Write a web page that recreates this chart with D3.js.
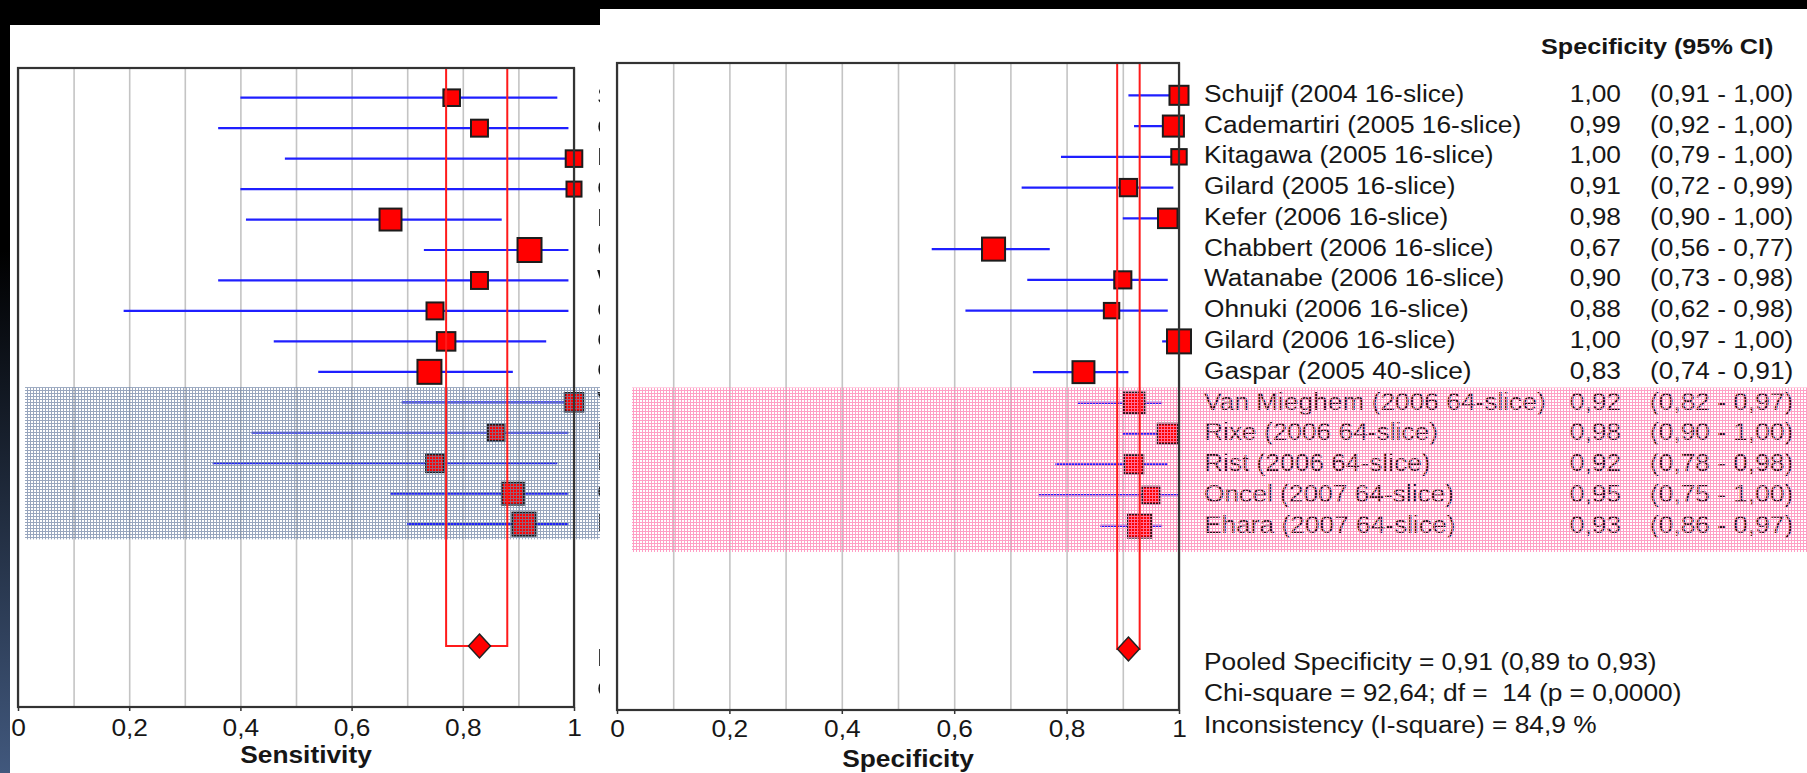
<!DOCTYPE html>
<html>
<head>
<meta charset="utf-8">
<script src="https://cdn.jsdelivr.net/npm/d3@7"></script>
<style>
  html, body { margin: 0; padding: 0; background: #000; }
  svg { display: block; }
  text { font-family: "Liberation Sans", Arial, Helvetica, sans-serif; fill: #161616; white-space: pre; }
</style>
</head>
<body>
<svg id="chart" width="1807" height="773"></svg>
<script>
// studies (same order in both panels)
const studies = [
  "Schuijf (2004 16-slice)", "Cademartiri (2005 16-slice)", "Kitagawa (2005 16-slice)",
  "Gilard (2005 16-slice)", "Kefer (2006 16-slice)", "Chabbert (2006 16-slice)",
  "Watanabe (2006 16-slice)", "Ohnuki (2006 16-slice)", "Gilard (2006 16-slice)",
  "Gaspar (2005 40-slice)", "Van Mieghem (2006 64-slice)", "Rixe (2006 64-slice)",
  "Rist (2006 64-slice)", "Oncel (2007 64-slice)", "Ehara (2007 64-slice)"
];

// sensitivity (left panel)
const sensitivity = [0.78, 0.83, 1.00, 1.00, 0.67, 0.92, 0.83, 0.75, 0.77, 0.74, 1.00, 0.86, 0.75, 0.89, 0.91];
const sensLow     = [0.40, 0.36, 0.48, 0.40, 0.41, 0.73, 0.36, 0.19, 0.46, 0.54, 0.69, 0.42, 0.35, 0.67, 0.70];
const sensHigh    = [0.97, 0.99, 1.00, 1.00, 0.87, 0.99, 0.99, 0.99, 0.95, 0.89, 1.00, 0.99, 0.97, 0.99, 0.99];
const sensWeight  = [4.4, 4.6, 4.4, 3.6, 7.7, 9.2, 4.6, 4.6, 5.5, 9.2, 5.5, 4.4, 5.1, 7.7, 8.5];
const sensPooled  = [0.83, 0.77, 0.88];

// specificity (right panel)
const specificity = [1.00, 0.99, 1.00, 0.91, 0.98, 0.67, 0.90, 0.88, 1.00, 0.83, 0.92, 0.98, 0.92, 0.95, 0.93];
const specLow     = [0.91, 0.92, 0.79, 0.72, 0.90, 0.56, 0.73, 0.62, 0.97, 0.74, 0.82, 0.90, 0.78, 0.75, 0.86];
const specHigh    = [1.00, 1.00, 1.00, 0.99, 1.00, 0.77, 0.98, 0.98, 1.00, 0.91, 0.97, 1.00, 0.98, 1.00, 0.97];
const specWeight  = [5.8, 7.1, 3.8, 4.8, 6.1, 8.5, 4.7, 3.8, 9.2, 7.7, 6.9, 6.4, 5.5, 4.6, 8.8];
const specPooled  = [0.91, 0.89, 0.93];

const specStats = [
  "Pooled Specificity = 0,91 (0,89 to 0,93)",
  "Chi-square = 92,64; df =  14 (p = 0,0000)",
  "Inconsistency (I-square) = 84,9 %"
];
// only the first letters of these peek out from under the right panel
const sensStats = ["Pooled Sensitivity", "Chi-square"];

const gridValues = [0, 0.1, 0.2, 0.3, 0.4, 0.5, 0.6, 0.7, 0.8, 0.9, 1];
const tickValues = [0, 0.2, 0.4, 0.6, 0.8, 1];

const SX = 1.12;     // the source image is a bit stretched sideways
const FS = 23.5;
const fmtTick = d => (d === 0 || d === 1) ? String(d) : d.toFixed(1).replace(".", ",");
const fmt2 = d => d.toFixed(2).replace(".", ",");

const svg = d3.select("#chart");
const defs = svg.append("defs");

// left slide edge gradient
const grad = defs.append("linearGradient").attr("id", "edge")
  .attr("gradientUnits", "userSpaceOnUse").attr("x1", 0).attr("y1", 250).attr("x2", 0).attr("y2", 773);
grad.append("stop").attr("offset", 0).attr("stop-color", "#000");
grad.append("stop").attr("offset", 1).attr("stop-color", "#41587d");

// stipple patterns for the 64-slice bands
function stipple(id, color) {
  const p = defs.append("pattern").attr("id", id).attr("patternUnits", "userSpaceOnUse")
    .attr("width", 3).attr("height", 3);
  p.append("path").attr("d", "M0,0h3v1h-2v2h-1z").attr("fill", color).attr("shape-rendering", "crispEdges");
}
stipple("bandBlue", "rgba(112,132,165,0.72)");
stipple("bandPink", "rgba(255,135,182,0.8)");

function txt(g, x, y, s, anchor, size, bold) {
  return g.append("text")
    .attr("transform", "translate(" + x + "," + y + ") scale(" + SX + ",1)")
    .attr("dy", "0.28em")
    .attr("text-anchor", anchor || "start")
    .style("font-size", (size || FS) + "px")
    .style("font-weight", bold ? "bold" : "normal")
    .text(s);
}

// background: black slide with the left edge strip
svg.append("rect").attr("width", 1807).attr("height", 773).attr("fill", "#000");
svg.append("rect").attr("x", 0).attr("y", 0).attr("width", 10).attr("height", 773).attr("fill", "url(#edge)");

const sizeScale = d3.scaleSqrt().domain([0, 10]).range([0, 25]);

function drawPanel(cfg) {
  const g = svg.append("g");
  const x = cfg.x, y = cfg.y;
  const x0 = x.range()[0], x1 = x.range()[1];

  g.append("rect").attr("x", cfg.bg[0]).attr("y", cfg.bg[1]).attr("width", cfg.bg[2]).attr("height", cfg.bg[3])
    .attr("fill", "#fff");

  // gridlines
  const grid = g.append("g").attr("transform", "translate(0," + cfg.bottom + ")")
    .call(d3.axisBottom(x).tickValues(gridValues).tickSize(-(cfg.bottom - cfg.top)).tickFormat(""));
  grid.select(".domain").remove();
  grid.selectAll("line").attr("stroke", "#c4c4c4").attr("stroke-width", 1.6);

  // CI lines
  g.selectAll(".ci").data(cfg.est).enter().append("line")
    .attr("x1", (d, i) => x(cfg.lo[i])).attr("x2", (d, i) => x(cfg.hi[i]))
    .attr("y1", (d, i) => y(i)).attr("y2", (d, i) => y(i))
    .attr("stroke", "#1f1fff").attr("stroke-width", 2.2);

  // study boxes
  g.selectAll(".box").data(cfg.est).enter().append("rect")
    .attr("x", (d, i) => x(d) - sizeScale(cfg.w[i]) / 2)
    .attr("y", (d, i) => y(i) - sizeScale(cfg.w[i]) / 2)
    .attr("width", (d, i) => sizeScale(cfg.w[i]))
    .attr("height", (d, i) => sizeScale(cfg.w[i]))
    .attr("fill", "#ff0000").attr("stroke", "#1c1c1c").attr("stroke-width", 2);

  // labels on the right of the plot
  if (cfg.labels) cfg.labels(g);

  // stippled band over the 64-slice rows
  g.append("rect").attr("x", cfg.band[0]).attr("y", cfg.band[1]).attr("width", cfg.band[2]).attr("height", cfg.band[3])
    .attr("fill", "url(#" + cfg.bandFill + ")");

  // pooled estimate: red box from the top down to the diamond
  const py = y(18);
  g.append("path")
    .attr("d", "M" + x(cfg.pooled[1]) + "," + cfg.top + "V" + py + "H" + x(cfg.pooled[2]) + "V" + cfg.top)
    .attr("fill", "none").attr("stroke", "#ff1a1a").attr("stroke-width", 2);
  const px = x(cfg.pooled[0]);
  g.append("path")
    .attr("d", "M" + px + "," + (py - 12) + "L" + (px + 11) + "," + py + "L" + px + "," + (py + 12) + "L" + (px - 11) + "," + py + "Z")
    .attr("fill", "#ff0000").attr("stroke", "#222").attr("stroke-width", 1.5);

  // frame
  g.append("rect").attr("x", x0).attr("y", cfg.top).attr("width", x1 - x0).attr("height", cfg.bottom - cfg.top)
    .attr("fill", "none").attr("stroke", "#333").attr("stroke-width", 2.2);

  // axis ticks and labels
  const ax = g.append("g").attr("transform", "translate(0," + cfg.bottom + ")")
    .call(d3.axisBottom(x).tickValues(tickValues).tickSize(4).tickFormat(fmtTick));
  ax.select(".domain").remove();
  ax.selectAll("line").attr("stroke", "#333").attr("stroke-width", 1.5);
  ax.selectAll("text").attr("y", cfg.tickY).attr("dy", "0.35em")
    .attr("transform", "scale(" + SX + ",1)")
    .style("font-size", FS + "px").attr("fill", "#161616")
    .style("font-family", "'Liberation Sans', Arial, sans-serif");

  txt(g, (x0 + x1) / 2 + 10, cfg.bottom + cfg.titleY, cfg.title, "middle", FS, true);
  return g;
}

// ---- left panel (sensitivity) ----
const lx = d3.scaleLinear().domain([0, 1]).range([18, 574]);
const ly = d3.scaleLinear().domain([0, 18]).range([97.7, 646]);
drawPanel({
  x: lx, y: ly, top: 68, bottom: 707, bg: [10, 25, 590, 748],
  est: sensitivity, lo: sensLow, hi: sensHigh, w: sensWeight, pooled: sensPooled,
  band: [25, ly(9.5), 575, ly(14.5) - ly(9.5)], bandFill: "bandBlue",
  tickY: 21, titleY: 49, title: "Sensitivity",
  labels: g => {
    const hidden = g.append("g").style("filter", "grayscale(1)");
    studies.forEach((s, i) => txt(hidden, 597, ly(i), s));
    sensStats.forEach((s, i) => txt(hidden, 597, 659 + i * 31, s));
  }
});

// ---- right panel (specificity) ----
const rx = d3.scaleLinear().domain([0, 1]).range([617, 1179]);
const ry = d3.scaleLinear().domain([0, 18]).range([95.3, 649]);
drawPanel({
  x: rx, y: ry, top: 63, bottom: 710, bg: [600, 9, 1207, 764],
  est: specificity, lo: specLow, hi: specHigh, w: specWeight, pooled: specPooled,
  band: [632, ry(9.5), 1175, 552 - ry(9.5)], bandFill: "bandPink",
  tickY: 19, titleY: 50, title: "Specificity",
  labels: g => {
    txt(g, 1541, 48, "Specificity (95% CI)", "start", 22.5, true);
    studies.forEach((s, i) => {
      txt(g, 1204, ry(i), s);
      txt(g, 1621, ry(i), fmt2(specificity[i]), "end");
      txt(g, 1650, ry(i), "(" + fmt2(specLow[i]) + " - " + fmt2(specHigh[i]) + ")");
    });
    specStats.forEach((s, i) => txt(g, 1204, 663 + i * 31.7, s));
  }
});
</script>
</body>
</html>
